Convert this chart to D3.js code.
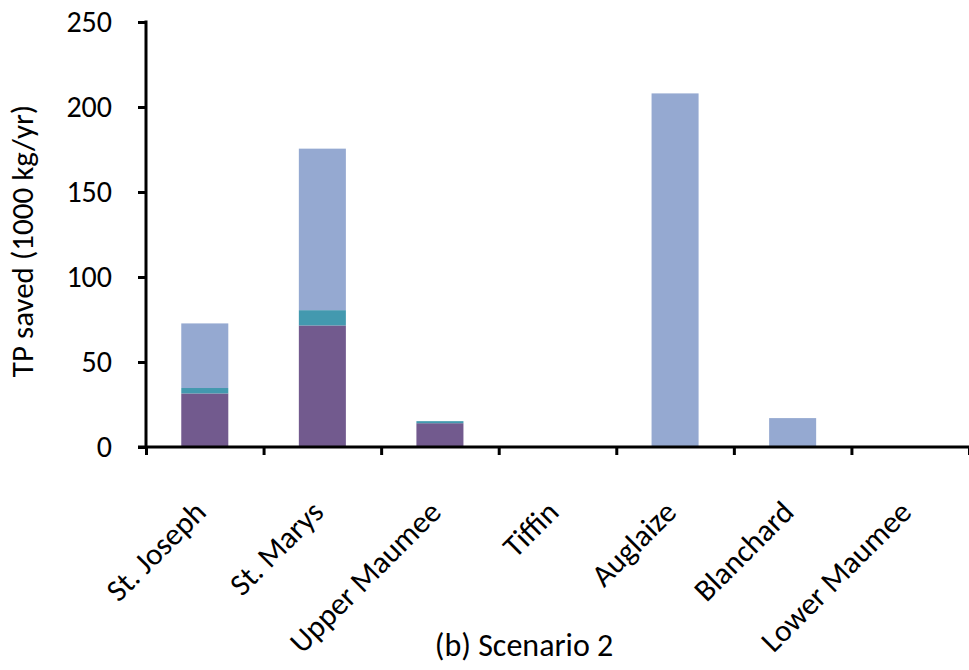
<!DOCTYPE html>
<html>
<head>
<meta charset="utf-8">
<script src="https://cdn.jsdelivr.net/npm/d3@7"></script>
<style>
  html, body { margin: 0; padding: 0; background: #fff; }
  svg { display: block; }
  text { font-family: Calibri, Carlito, Lato, "Open Sans", sans-serif; fill: #000; }
</style>
</head>
<body>
<svg id="chart" width="969" height="670"></svg>
<script>
// Sub-watersheds along the x axis
const categories = ["St. Joseph", "St. Marys", "Upper Maumee", "Tiffin", "Auglaize", "Blanchard", "Lower Maumee"];
// TP saved (1000 kg/yr), stacked from the bottom up
const bottomValues = [31.5, 71.5, 14, 0, 0, 0, 0];
const middleValues = [3.2, 9, 1.2, 0, 0, 0, 0];
const topValues    = [38, 95, 0, 0, 208, 17, 0];
const yTicks = [0, 50, 100, 150, 200, 250];
const seriesKeys = ["bottom", "middle", "top"];
const seriesColors = ["#725a8e", "#4399af", "#95a9d1"];

const rows = categories.map((c, i) => ({
  name: c, bottom: bottomValues[i], middle: middleValues[i], top: topValues[i]
}));

const svg = d3.select("#chart");
const plot = { left: 146, right: 969, top: 22, bottom: 447 };
const labelSize = 31;

const x = d3.scaleBand()
  .domain(categories)
  .range([plot.left, plot.right])
  .paddingInner(0.6)
  .paddingOuter(0.3);

const y = d3.scaleLinear().domain([0, 250]).range([plot.bottom, plot.top]);

const color = d3.scaleOrdinal().domain(seriesKeys).range(seriesColors);
const stacked = d3.stack().keys(seriesKeys)(rows);

// stacked bars
svg.append("g")
  .selectAll("g")
  .data(stacked)
  .join("g")
  .attr("fill", d => color(d.key))
  .selectAll("rect")
  .data(d => d)
  .join("rect")
  .attr("x", d => x(d.data.name))
  .attr("width", x.bandwidth())
  .attr("y", d => y(d[1]))
  .attr("height", d => y(d[0]) - y(d[1]));

// y axis
const yAxis = svg.append("g")
  .attr("transform", `translate(${plot.left},0)`)
  .call(d3.axisLeft(y).tickValues(yTicks).tickSize(8).tickSizeOuter(0).tickPadding(26));
yAxis.selectAll("path, line").attr("stroke", "#000").attr("stroke-width", 3);
yAxis.selectAll("text").attr("font-size", 30).style("font-family", null);
yAxis.select(".domain").attr("d", `M0,${plot.top - 1.5}V${plot.bottom}`);

// x axis: ticks sit on category boundaries
const boundary = d3.scaleLinear()
  .domain([0, categories.length])
  .range([plot.left, plot.left + categories.length * x.step()]);
const xAxis = svg.append("g")
  .attr("transform", `translate(0,${plot.bottom})`)
  .call(d3.axisBottom(boundary).tickValues(d3.range(categories.length + 1)).tickSize(8).tickSizeOuter(0).tickFormat(""));
xAxis.selectAll("path, line").attr("stroke", "#000").attr("stroke-width", 3);
xAxis.select(".domain").attr("d", `M${plot.left - 8},0H${plot.right}`);

// rotated category labels
svg.append("g")
  .selectAll("text")
  .data(categories)
  .join("text")
  .attr("transform", d => `translate(${x(d) + x.bandwidth() / 2 + 3},${514}) rotate(-45)`)
  .attr("text-anchor", "end")
  .attr("font-size", labelSize)
  .text(d => d);

// axis title
svg.append("text")
  .attr("transform", `translate(33,241) rotate(-90)`)
  .attr("text-anchor", "middle")
  .attr("font-size", labelSize)
  .text("TP saved (1000 kg/yr)");

// caption
svg.append("text")
  .attr("x", 524)
  .attr("y", 656)
  .attr("text-anchor", "middle")
  .attr("font-size", 32)
  .text("(b) Scenario 2");
</script>
</body>
</html>
